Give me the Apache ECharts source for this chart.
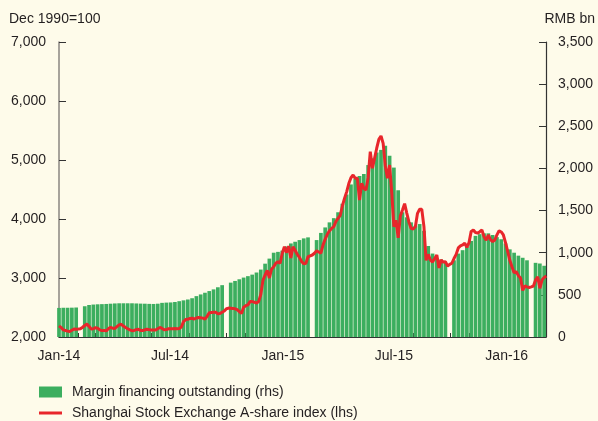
<!DOCTYPE html>
<html><head><meta charset="utf-8">
<script src="https://cdn.jsdelivr.net/npm/echarts@6/dist/echarts.min.js"></script>
<style>html,body{margin:0;padding:0;background:#fefbea;}#c{width:598px;height:421px;}</style>
</head><body><div id="c"></div>
<script>
const DAY = 86400000;
const startDate = new Date(2014, 0, 1).getTime();
const endDate = new Date(2016, 2, 5).getTime();
const monthNames = ['Jan','Feb','Mar','Apr','May','Jun','Jul','Aug','Sep','Oct','Nov','Dec'];
const legendNames = ['Margin financing outstanding (rhs)', 'Shanghai Stock Exchange A-share index (lhs)'];
const leftAxisTitle = 'Dec 1990=100';
const rightAxisTitle = 'RMB bn';
// x tick positions: month starts, and labelled half-year marks
const monthTicks = [];
for (let m = 0; m <= 26; m++) monthTicks.push(new Date(2014, m, 1).getTime());
const labelTicks = monthTicks.filter(t => new Date(t).getMonth() % 6 === 0);

// Margin financing outstanding, RMB bn, weekly (week centres from 1 Jan 2014), null = holiday week
const barValues = [
  345, 347, 347, 348, 350, null, 365, 380, 385, 388,
  390, 392, 395, 398, 400, 400, 400, 400, 398, 396,
  395, 393, 392, 395, 405, 408, 410, 415, 425, 435,
  445, 460, 485, 505, 525, 545, 565, 590, 615, null,
  645, 665, 685, 705, 722, 740, 765, 800, 870, 930,
  1000, 1010, 1025, 1075, 1110, 1130, 1150, 1170, 1182, null,
  1150, 1235, 1300, 1360, 1410, 1480, 1580, 1690, 1810, 1880,
  1910, 1935, 2040, 2120, 2190, 2220, 2270, 2150, 2010, 1740,
  1480, 1420, 1360, 1320, 1340, 1260, 1080, 990, 935, 920,
  880, null, 910, 990, 1030, 1070, 1140, 1200, 1220, 1230,
  1230, 1210, 1185, 1160, 1110, 1040, 1000, 965, 940, 910,
  null, 880, 872, 845
];

// Shanghai A-share index, twice weekly (every 3.5 days from 1 Jan 2014)
const lineValues = [
  2190, 2160, 2120, 2110, 2100, 2092, 2115, 2136, 2132, 2135,
  2140, 2165, 2195, 2218, 2180, 2135, 2140, 2158, 2150, 2120,
  2108, 2112, 2104, 2140, 2164, 2150, 2145, 2175, 2205, 2215,
  2185, 2160, 2140, 2122, 2107, 2112, 2125, 2130, 2112, 2110,
  2122, 2130, 2125, 2118, 2120, 2118, 2140, 2162, 2145, 2122,
  2125, 2140, 2140, 2140, 2142, 2140, 2145, 2170, 2260, 2295,
  2300, 2315, 2318, 2305, 2322, 2330, 2325, 2320, 2305, 2350,
  2410, 2415, 2420, 2418, 2395, 2400, 2420, 2440, 2480, 2490,
  2488, 2485, 2478, 2462, 2430, 2400, 2505, 2530, 2545, 2600,
  2600, 2590, 2575, 2600, 2720, 2960, 3050, 3130, 3000, 3150,
  3190, 3250, 3276, 3250, 3420, 3530, 3430, 3540, 3340, 3530,
  3470, 3400, 3350, 3280, 3240, 3250, 3360, 3375, 3390, 3420,
  3460, 3440, 3420, 3560, 3660, 3740, 3800, 3840, 3870, 3960,
  4010, 4060, 4220, 4350, 4460, 4600, 4700, 4746, 4690, 4690,
  4322, 4605, 4520, 4492, 4700, 5140, 4860, 5029, 5200, 5351,
  5407, 5283, 4900, 4690, 4915, 4450, 3870, 3980, 3680, 4050,
  4153, 4260, 4100, 3950, 3842, 3830, 3870, 4096, 4164, 4164,
  3870, 3300, 3400, 3305, 3270, 3330, 3390, 3170, 3305, 3270,
  3276, 3200, 3230, 3250, 3330, 3400, 3510, 3545, 3560, 3588,
  3520, 3600, 3790, 3814, 3770, 3760, 3785, 3814, 3700, 3640,
  3729, 3650, 3616, 3644, 3730, 3800, 3780, 3729, 3600, 3450,
  3300, 3190, 3090, 3107, 3040, 3000, 2790, 2864, 2850, 2840,
  2850, 2864, 2966, 3022, 2825, 2966, 3010, 3034
];

const barData = barValues.map((v, i) => [startDate + 7 * i * DAY, v]);
const lineData = lineValues.map((v, j) => [startDate + 3.5 * j * DAY, v]);

const FONT = 'Liberation Sans';
const TXT = '#231f20';
const GREEN = '#3cae5f';
const RED = '#e8262b';

const chart = echarts.init(document.getElementById('c'), null, {renderer: 'canvas'});
chart.setOption({
  backgroundColor: '#fefbea',
  animation: false,
  textStyle: {fontFamily: FONT},
  grid: {left: 59, right: 52, top: 42, bottom: 84},
  graphic: [
    {type: 'text', left: 9, top: 12, style: {text: leftAxisTitle, font: '14px ' + FONT, fill: TXT}},
    {type: 'text', right: 3, top: 12, style: {text: rightAxisTitle, font: '14px ' + FONT, fill: TXT}}
  ],
  legend: [
    {
      left: 39, top: 385, padding: 0, itemWidth: 23, itemHeight: 11,
      textStyle: {fontSize: 14, color: TXT, fontFamily: FONT, padding: [0, 0, 0, 5]},
      data: [{name: legendNames[0], icon: 'rect'}]
    },
    {
      left: 39, top: 406, padding: 0, itemWidth: 23, itemHeight: 3,
      textStyle: {fontSize: 14, color: TXT, fontFamily: FONT, padding: [0, 0, 0, 5]},
      data: [{name: legendNames[1], icon: 'rect'}]
    }
  ],
  xAxis: [
    {
      type: 'value', min: startDate, max: endDate, scale: true,
      axisLine: {show: true, onZero: false, lineStyle: {color: '#333', width: 1.2}},
      axisTick: {show: true, inside: true, length: 4, customValues: monthTicks, lineStyle: {color: '#333', width: 1}},
      axisLabel: {
        show: true, margin: 12, fontSize: 14, color: TXT, fontFamily: FONT,
        customValues: labelTicks,
        formatter: function (val) {
          const d = new Date(val);
          return monthNames[d.getMonth()] + '-' + String(d.getFullYear()).slice(2);
        }
      },
      splitLine: {show: false}
    },
    {
      type: 'value', min: startDate, max: endDate, scale: true, position: 'bottom',
      axisLine: {show: false, onZero: false},
      axisTick: {show: true, inside: true, length: 8, customValues: labelTicks, lineStyle: {color: '#333', width: 1}},
      axisLabel: {show: false},
      splitLine: {show: false}
    }
  ],
  yAxis: [
    {
      type: 'value', min: 2000, max: 7000, interval: 1000, position: 'left',
      axisLine: {show: true, lineStyle: {color: '#8a8680', width: 1.5}},
      axisTick: {show: true, inside: true, length: 7, lineStyle: {color: '#333'}},
      axisLabel: {margin: 13, fontSize: 14, color: TXT, fontFamily: FONT,
        formatter: v => v.toLocaleString('en-US')},
      splitLine: {show: false}
    },
    {
      type: 'value', min: 0, max: 3500, interval: 500, position: 'right',
      axisLine: {show: true, lineStyle: {color: '#333', width: 1.2}},
      axisTick: {show: true, inside: true, length: 7, lineStyle: {color: '#333'}},
      axisLabel: {margin: 12, fontSize: 14, color: TXT, fontFamily: FONT,
        formatter: v => v.toLocaleString('en-US')},
      splitLine: {show: false}
    }
  ],
  series: [
    {
      name: legendNames[0], type: 'bar', xAxisIndex: 0, yAxisIndex: 1,
      data: barData, barWidth: 3.7, itemStyle: {color: GREEN}, z: 1
    },
    {
      name: legendNames[1], type: 'line', xAxisIndex: 0, yAxisIndex: 0,
      data: lineData, showSymbol: false, symbol: 'none',
      lineStyle: {color: RED, width: 3}, itemStyle: {color: RED}, z: 3
    }
  ]
});
</script>
</body></html>
